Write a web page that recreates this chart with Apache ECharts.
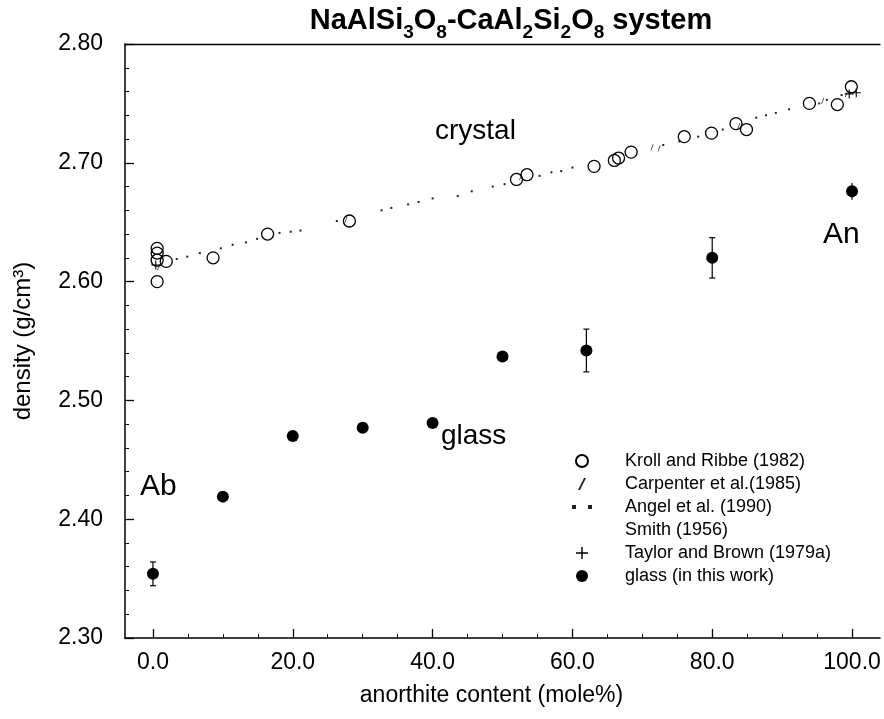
<!DOCTYPE html>
<html>
<head>
<meta charset="utf-8">
<script src="https://cdn.jsdelivr.net/npm/echarts@6/dist/echarts.min.js"></script>
<style>
  html, body { margin: 0; padding: 0; background: #fff; }
  #chart { width: 884px; height: 719px; }
</style>
</head>
<body>
<div id="chart"></div>
<script>
// anorthite content (mole%) vs density (g/cm3)
const krollX = [0.6, 0.6, 0.6, 1.9, 0.6, 8.6, 16.4, 28.1, 52.0, 53.5, 63.1, 66.0, 66.6, 68.4, 76.0, 79.9, 83.4, 84.9, 93.9, 97.9, 99.9]
const krollY = [2.628, 2.624, 2.618, 2.617, 2.600, 2.620, 2.640, 2.651, 2.686, 2.690, 2.697, 2.702, 2.704, 2.709, 2.722, 2.725, 2.733, 2.728, 2.750, 2.749, 2.764]

const carpX = [0.8, 27.6, 52.6, 71.4, 72.4, 83.8, 95.8, 99.2]
const carpY = [2.612, 2.652, 2.688, 2.713, 2.712, 2.731, 2.752, 2.758]

const angelX = [3.4, 4.9, 6.7, 9.7, 11.4, 13.3, 14.9, 18.1, 19.7, 21.1, 26.3, 32.7, 34.1, 36.5, 38.0, 40.0, 43.6, 45.6, 48.6, 50.3, 55.3, 57.0, 58.4, 60.0, 73.0, 75.3, 78.0, 81.5, 86.3, 87.7, 89.1, 91.0, 95.3, 96.4, 98.5]
const angelY = [2.619, 2.621, 2.624, 2.628, 2.631, 2.633, 2.636, 2.641, 2.642, 2.643, 2.651, 2.660, 2.662, 2.665, 2.667, 2.670, 2.672, 2.676, 2.680, 2.682, 2.689, 2.692, 2.693, 2.696, 2.715, 2.718, 2.722, 2.728, 2.738, 2.740, 2.742, 2.745, 2.750, 2.753, 2.757]

const taylorX = [0.4, 99.6, 100.6]
const taylorY = [2.614, 2.758, 2.759]

const glassX = [0, 10, 20, 30, 40, 50, 62, 80, 100]
const glassY = [2.354, 2.419, 2.470, 2.477, 2.481, 2.537, 2.542, 2.620, 2.676]
const glassErr = [0.010, 0, 0, 0, 0, 0, 0.018, 0.017, 0.007]

const xTicks = [0, 20, 40, 60, 80, 100]
const xMinorTicks = [5, 10, 15, 25, 30, 35, 45, 50, 55, 65, 70, 75, 85, 90, 95]
const yMinorTicks = [2.32, 2.34, 2.36, 2.38, 2.42, 2.44, 2.46, 2.48, 2.52, 2.54, 2.56, 2.58, 2.62, 2.64, 2.66, 2.68, 2.72, 2.74, 2.76, 2.78]

const FONT = 'Liberation Sans, Arial, sans-serif'

function pairs( xs, ys ) {
  return xs.map( ( x, i ) => [x, ys[i]] )
}

const chart = echarts.init( document.getElementById( 'chart' ) )

chart.setOption( {
  backgroundColor : '#fff',
  animation : false,
  title : {
    text : '{b|NaAlSi}{s|3}{b|O}{s|8}{b|-CaAl}{s|2}{b|Si}{s|2}{b|O}{s|8}{b| system}',
    left : 506,
    top : -4,
    textAlign : 'center',
    textStyle : {
      rich : {
        b : { fontFamily : FONT, fontSize : 29, fontWeight : 'bold', color : '#000', verticalAlign : 'bottom', lineHeight : 34 },
        s : { fontFamily : FONT, fontSize : 19, fontWeight : 'bold', color : '#000', verticalAlign : 'bottom', lineHeight : 22, padding : [0, 0, -7, 0] }
      }
    }
  },
  grid : {
    left : 125,
    right : 4,
    top : 44,
    bottom : 81
  },
  legend : {
    orient : 'vertical',
    left : 567,
    top : 447,
    itemWidth : 20,
    itemHeight : 12,
    itemGap : 5,
    textStyle : {
      fontFamily : FONT,
      fontSize : 18,
      lineHeight : 18,
      color : '#000',
      padding : [0, 0, 0, 28]
    },
    data : [
      { name : 'Kroll and Ribbe (1982)' },
      { name : 'Carpenter et al.(1985)' },
      { name : 'Angel et al. (1990)', icon : 'path://M0,9h2v2h-2z M8,9h2v2h-2z' },
      { name : 'Smith (1956)', itemStyle : { color : 'rgba(0,0,0,0)', borderWidth : 0, opacity : 0 } },
      { name : 'Taylor and Brown (1979a)' },
      { name : 'glass (in this work)' }
    ]
  },
  xAxis : [
    {
      type : 'value',
      min : -4,
      max : 104,
      name : 'anorthite content (mole%)',
      nameLocation : 'middle',
      nameGap : 46,
      nameTextStyle : { fontFamily : FONT, fontSize : 23, color : '#000', padding : [0, 22, 0, 0] },
      axisLine : { show : true, onZero : false, lineStyle : { color : '#000', width : 1.5 } },
      axisTick : { show : true, inside : true, length : 9, customValues : xTicks, lineStyle : { color : '#000', width : 1.3 } },
      axisLabel : {
        customValues : xTicks,
        margin : 13,
        fontFamily : FONT,
        fontSize : 23,
        color : '#000',
        formatter : v => v.toFixed( 1 )
      },
      splitLine : { show : false }
    },
    {
      type : 'value',
      min : -4,
      max : 104,
      position : 'bottom',
      axisLine : { show : false, onZero : false },
      axisTick : { show : true, inside : true, length : 4, customValues : xMinorTicks, lineStyle : { color : '#000', width : 1 } },
      axisLabel : { show : false },
      splitLine : { show : false }
    },
    {
      type : 'value',
      min : -4,
      max : 104,
      position : 'top',
      axisLine : { show : true, onZero : false, lineStyle : { color : '#000', width : 1.3 } },
      axisTick : { show : false },
      axisLabel : { show : false },
      splitLine : { show : false }
    }
  ],
  yAxis : [
    {
      type : 'value',
      min : 2.3,
      max : 2.8,
      interval : 0.1,
      name : 'density (g/cm³)',
      nameLocation : 'middle',
      nameGap : 90,
      nameRotate : 90,
      nameTextStyle : { fontFamily : FONT, fontSize : 24, color : '#000' },
      axisLine : { show : true, onZero : false, lineStyle : { color : '#000', width : 1.5 } },
      axisTick : { show : true, inside : true, length : 9, lineStyle : { color : '#000', width : 1.3 } },
      axisLabel : {
        margin : 22,
        fontFamily : FONT,
        fontSize : 23,
        color : '#000',
        formatter : v => v.toFixed( 2 )
      },
      splitLine : { show : false }
    },
    {
      type : 'value',
      min : 2.3,
      max : 2.8,
      position : 'left',
      axisLine : { show : false, onZero : false },
      axisTick : { show : true, inside : true, length : 4, customValues : yMinorTicks, lineStyle : { color : '#000', width : 1 } },
      axisLabel : { show : false },
      splitLine : { show : false }
    }
  ],
  graphic : [
    { type : 'text', left : 435, top : 117, style : { text : 'crystal', font : '28px ' + FONT, fill : '#000' } },
    { type : 'text', left : 441, top : 422, style : { text : 'glass', font : '28px ' + FONT, fill : '#000' } },
    { type : 'text', left : 140, top : 472, style : { text : 'Ab', font : '30px ' + FONT, fill : '#000' } },
    { type : 'text', left : 823, top : 220, style : { text : 'An', font : '30px ' + FONT, fill : '#000' } }
  ],
  series : [
    {
      name : 'Kroll and Ribbe (1982)',
      type : 'scatter',
      symbol : 'circle',
      symbolSize : 12,
      itemStyle : { color : 'rgba(255,255,255,0)', borderColor : '#000', borderWidth : 1.3, opacity : 1 },
      data : pairs( krollX, krollY ),
      z : 3
    },
    {
      name : 'Carpenter et al.(1985)',
      type : 'scatter',
      symbol : 'path://M3,0 L4,0 L1,6 L0,6 Z',
      symbolSize : [3, 6],
      itemStyle : { color : '#222', opacity : 1 },
      data : pairs( carpX, carpY )
    },
    {
      name : 'Angel et al. (1990)',
      type : 'scatter',
      symbol : 'rect',
      symbolSize : 2,
      itemStyle : { color : '#222', opacity : 1 },
      data : pairs( angelX, angelY )
    },
    {
      name : 'Smith (1956)',
      type : 'scatter',
      symbol : 'none',
      data : []
    },
    {
      name : 'Taylor and Brown (1979a)',
      type : 'scatter',
      symbol : 'path://M4.4,0h1.2v4.4h4.4v1.2h-4.4v4.4h-1.2v-4.4h-4.4v-1.2h4.4z',
      symbolSize : 9,
      itemStyle : { color : '#000', opacity : 1 },
      data : pairs( taylorX, taylorY )
    },
    {
      name : 'glass (in this work)',
      type : 'scatter',
      symbol : 'circle',
      symbolSize : 12,
      itemStyle : { color : '#000', opacity : 1 },
      data : pairs( glassX, glassY ),
      z : 4
    },
    {
      name : 'glass error',
      type : 'custom',
      data : glassX.map( ( x, i ) => [x, glassY[i] - glassErr[i], glassY[i] + glassErr[i], glassErr[i]] ),
      renderItem : function( params, api ) {
        const lo = api.coord( [api.value( 0 ), api.value( 1 )] )
        const hi = api.coord( [api.value( 0 ), api.value( 2 )] )
        const style = { stroke : '#000', lineWidth : 1.2 }
        const children = [
          { type : 'line', shape : { x1 : lo[0], y1 : lo[1], x2 : hi[0], y2 : hi[1] }, style }
        ]
        if ( api.value( 3 ) >= 0.008 ) {
          children.push( { type : 'line', shape : { x1 : lo[0] - 3, y1 : lo[1], x2 : lo[0] + 3, y2 : lo[1] }, style } )
          children.push( { type : 'line', shape : { x1 : hi[0] - 3, y1 : hi[1], x2 : hi[0] + 3, y2 : hi[1] }, style } )
        }
        return { type : 'group', children }
      },
      z : 3
    }
  ]
} )
</script>
</body>
</html>
